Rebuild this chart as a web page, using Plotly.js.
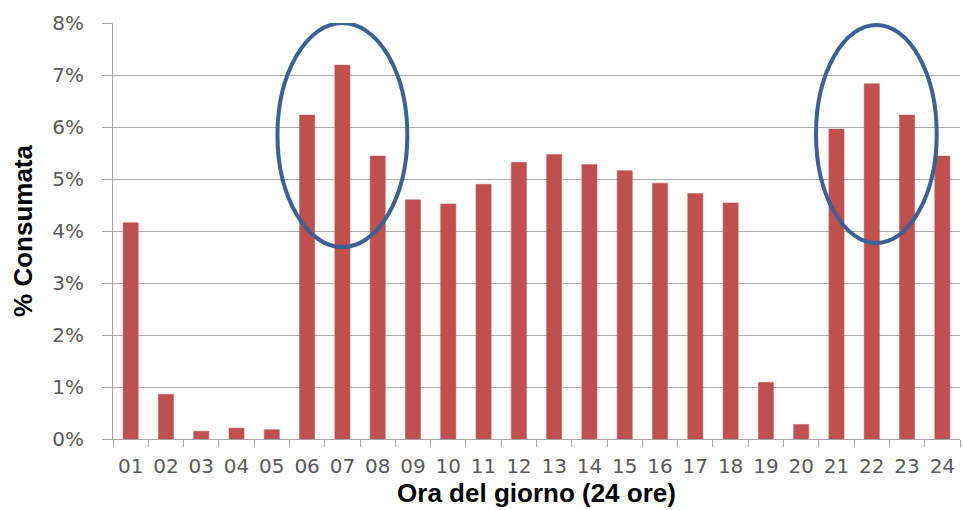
<!DOCTYPE html>
<html>
<head>
<meta charset="utf-8">
<script src="https://cdn.plot.ly/plotly-3.0.1.min.js"></script>
<style>html,body{margin:0;padding:0;background:#fff;}#chart{width:963px;height:510px;}</style>
</head>
<body>
<div id="chart"></div>
<script>
const hours = ["01","02","03","04","05","06","07","08","09","10","11","12","13","14","15","16","17","18","19","20","21","22","23","24"];
const consumedPct = [4.16, 0.86, 0.15, 0.21, 0.18, 6.23, 7.19, 5.44, 4.60, 4.52, 4.90, 5.32, 5.47, 5.28, 5.16, 4.92, 4.72, 4.54, 1.09, 0.28, 5.96, 6.83, 6.23, 5.44];
const yTicks = [0, 1, 2, 3, 4, 5, 6, 7, 8];
const yTickText = yTicks.map(v => v + "%");
const xTitle = "Ora del giorno (24 ore)";
const yTitle = "% Consumata";

const trace = {
  type: "bar",
  x: hours,
  y: consumedPct,
  marker: {color: "#C0504D", line: {color: "#C65B58", width: 0.5}},
  hoverinfo: "x+y"
};

const ellipseStyle = {color: "#3B6195", width: 4};
const layout = {
  width: 963, height: 510,
  margin: {l: 113, r: 3, t: 23, b: 71},
  paper_bgcolor: "#ffffff", plot_bgcolor: "#ffffff",
  bargap: 0.57,
  showlegend: false,
  xaxis: {
    type: "category",
    tickson: "boundaries",
    ticks: "outside", ticklen: 7, tickcolor: "#a6a6a6",
    showline: true, linecolor: "#a6a6a6", linewidth: 1,
    showgrid: false,
    tickfont: {family: "DejaVu Sans", size: 20, color: "#595959"},
    ticklabelstandoff: 9,
    title: {text: xTitle, font: {family: "Liberation Sans, Arial", size: 26, color: "#000", weight: "bold"}, standoff: 2}
  },
  yaxis: {
    range: [0, 8],
    tickvals: yTicks, ticktext: yTickText,
    ticks: "outside", ticklen: 10, tickcolor: "#a6a6a6",
    showline: true, linecolor: "#a6a6a6", linewidth: 1,
    showgrid: true, gridcolor: "#adadad", gridwidth: 1,
    zeroline: false,
    tickfont: {family: "DejaVu Sans", size: 20, color: "#595959"},
    ticklabelstandoff: 14,
    title: {text: yTitle, font: {family: "Liberation Sans, Arial", size: 26, color: "#000", weight: "bold"}, standoff: 12}
  },
  shapes: [
    {type: "circle", xref: "x", yref: "y", x0: 4.16, x1: 7.84, y0: 3.69, y1: 8.0, line: ellipseStyle},
    {type: "circle", xref: "x", yref: "y", x0: 19.42, x1: 22.84, y0: 3.77, y1: 7.96, line: ellipseStyle}
  ]
};

Plotly.newPlot("chart", [trace], layout, {displayModeBar: false, staticPlot: true});
</script>
</body>
</html>
